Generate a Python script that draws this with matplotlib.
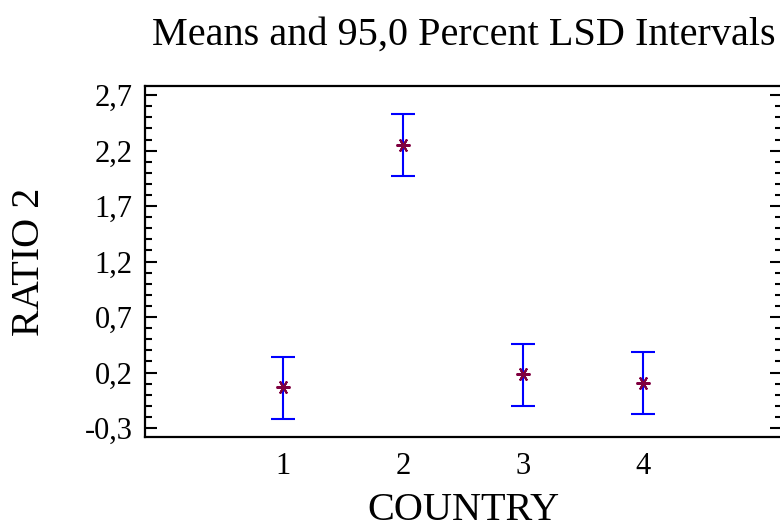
import matplotlib
matplotlib.use("Agg")
import matplotlib.pyplot as plt
from matplotlib.ticker import MultipleLocator, FuncFormatter

# Datos
countries = [1, 2, 3, 4]
means = [0.067, 2.25, 0.186, 0.103]
lower = [-0.22, 1.97, -0.10, -0.174]
upper = [0.34, 2.53, 0.457, 0.385]

err_low = [m - l for m, l in zip(means, lower)]
err_up = [u - m for m, u in zip(means, upper)]

plt.rcParams['font.family'] = ['Liberation Serif', 'DejaVu Serif']

fig = plt.figure(figsize=(7.8, 5.29), dpi=100)
ax = fig.add_axes([0.186, 0.174, 0.816, 0.663])

# Intervalos LSD
ax.errorbar(countries, means, yerr=[err_low, err_up], fmt='none',
            ecolor='#0000ff', elinewidth=1.5, capsize=8.5, capthick=1.5)
# Medias
ax.plot(countries, means, linestyle='none', marker=(6, 2, 90),
        markersize=10, markeredgewidth=1.5, color='#800040')

ax.set_xlim(-0.15, 5.15)
ax.set_ylim(-0.38, 2.78)
ax.set_xticks(countries)
ax.yaxis.set_major_locator(MultipleLocator(0.5))
ax.yaxis.set_minor_locator(MultipleLocator(0.1))
ax.set_yticks([-0.3, 0.2, 0.7, 1.2, 1.7, 2.2, 2.7])
ax.yaxis.set_major_formatter(FuncFormatter(lambda v, p: f"{v:.1f}".replace('.', ',')))

ax.tick_params(axis='x', length=0, pad=11, labelsize=22)
ax.tick_params(axis='y', which='major', direction='in', length=8.6, width=1.5,
               left=True, right=True, labelsize=22, pad=9)
ax.tick_params(axis='y', which='minor', direction='in', length=5, width=1.5,
               left=True, right=True)

for s in ax.spines.values():
    s.set_linewidth(1.6)
ax.spines['right'].set_visible(False)

ax.set_xlabel('COUNTRY', fontsize=29, labelpad=8)
ax.set_ylabel('RATIO 2', fontsize=29, labelpad=26)
ax.set_title('Means and 95,0 Percent LSD Intervals', fontsize=29, pad=30)

fig.savefig('out.png', dpi=100)
